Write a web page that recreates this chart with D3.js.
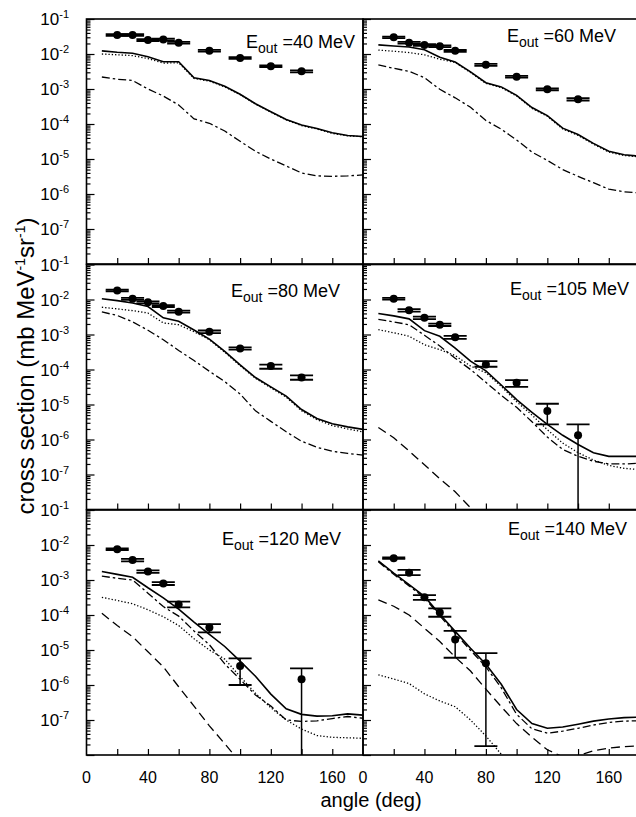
<!DOCTYPE html>
<html>
<head>
<meta charset="utf-8">
<script src="https://cdn.jsdelivr.net/npm/d3@7"></script>
<style>
  body { margin: 0; background: #fff; }
  svg { display: block; font-family: "Liberation Sans", Arial, sans-serif; }
</style>
</head>
<body>
<div id="chart"></div>
<script>
// angle grid shared by all model curves
const angles = [10, 20, 30, 40, 50, 60, 70, 80, 90, 100, 110, 120, 130, 140, 150, 160, 170, 180];

// E_out = 40 MeV
const solid40   = [1.23e-2, 1.12e-2, 1.05e-2, 8.3e-3, 6.0e-3, 6.0e-3, 2.1e-3, 1.74e-3, 1.2e-3, 7.1e-4, 3.8e-4, 2.24e-4, 1.35e-4, 9.3e-5, 7.4e-5, 5.6e-5, 4.7e-5, 4.4e-5];
const dotted40  = [1.0e-2, 9.5e-3, 9.0e-3, 7.4e-3, 5.5e-3, 5.6e-3, 2.0e-3, 1.68e-3, 1.15e-3, 6.9e-4, 3.7e-4, 2.18e-4, 1.32e-4, 9.0e-5, 7.2e-5, 5.4e-5, 4.6e-5, 4.3e-5];
const dashDot40 = [2.2e-3, 1.9e-3, 1.75e-3, 1.0e-3, 6.3e-4, 3.5e-4, 1.4e-4, 1.05e-4, 6.3e-5, 3.2e-5, 1.66e-5, 1.0e-5, 6.3e-6, 4.0e-6, 3.3e-6, 3.2e-6, 3.3e-6, 3.5e-6];
const expAng40 = [20, 30, 40, 50, 60, 80, 100, 120, 140];
const exp40    = [3.5e-2, 3.5e-2, 2.5e-2, 2.6e-2, 2.1e-2, 1.24e-2, 7.7e-3, 4.5e-3, 3.2e-3];
const lo40     = [3.3e-2, 3.3e-2, 2.35e-2, 2.45e-2, 1.98e-2, 1.17e-2, 7.3e-3, 4.25e-3, 3.0e-3];
const hi40     = [3.7e-2, 3.7e-2, 2.65e-2, 2.75e-2, 2.22e-2, 1.31e-2, 8.1e-3, 4.75e-3, 3.4e-3];

// E_out = 60 MeV
const solid60   = [1.82e-2, 1.7e-2, 1.58e-2, 1.32e-2, 8.1e-3, 5.9e-3, 3.1e-3, 1.51e-3, 1.15e-3, 6.6e-4, 2.95e-4, 1.74e-4, 7.6e-5, 5.0e-5, 2.8e-5, 1.66e-5, 1.32e-5, 1.2e-5];
const dotted60  = [1.29e-2, 1.2e-2, 1.1e-2, 9.5e-3, 7.1e-3, 5.75e-3, 2.95e-3, 1.45e-3, 1.1e-3, 6.3e-4, 2.8e-4, 1.66e-4, 7.2e-5, 4.75e-5, 2.65e-5, 1.58e-5, 1.26e-5, 1.15e-5];
const dashDot60 = [4.9e-3, 3.9e-3, 3.2e-3, 2.1e-3, 9.8e-4, 5.6e-4, 3.0e-4, 1.26e-4, 7.1e-5, 3.5e-5, 1.58e-5, 9.1e-6, 5.0e-6, 3.2e-6, 2.1e-6, 1.38e-6, 1.15e-6, 1.07e-6];
const expAng60 = [20, 30, 40, 50, 60, 80, 100, 120, 140];
const exp60    = [3.0e-2, 2.1e-2, 1.8e-2, 1.66e-2, 1.23e-2, 4.9e-3, 2.24e-3, 9.8e-4, 5.1e-4];
const lo60     = [2.85e-2, 1.98e-2, 1.7e-2, 1.57e-2, 1.16e-2, 4.6e-3, 2.1e-3, 9.2e-4, 4.7e-4];
const hi60     = [3.15e-2, 2.22e-2, 1.9e-2, 1.75e-2, 1.3e-2, 5.2e-3, 2.38e-3, 1.04e-3, 5.5e-4];

// E_out = 80 MeV
const solid80   = [1.05e-2, 9.3e-3, 7.9e-3, 6.3e-3, 3.0e-3, 2.4e-3, 1.35e-3, 7.4e-4, 3.3e-4, 1.35e-4, 5.9e-5, 3.2e-5, 1.74e-5, 7.2e-6, 4.0e-6, 2.8e-6, 2.3e-6, 1.95e-6];
const dotted80  = [6.0e-3, 5.4e-3, 4.8e-3, 4.1e-3, 2.14e-3, 1.9e-3, 1.2e-3, 7.1e-4, 3.1e-4, 1.28e-4, 5.6e-5, 3.0e-5, 1.62e-5, 6.6e-6, 3.7e-6, 2.5e-6, 2.0e-6, 1.65e-6];
const dashDot80 = [4.4e-3, 3.5e-3, 2.3e-3, 1.32e-3, 7.1e-4, 3.5e-4, 1.8e-4, 8.9e-5, 4.5e-5, 2.0e-5, 6.6e-6, 3.3e-6, 1.66e-6, 8.9e-7, 6.0e-7, 4.6e-7, 4.0e-7, 3.6e-7];
const expAng80 = [20, 30, 40, 50, 60, 80, 100, 120, 140];
const exp80    = [1.8e-2, 1.05e-2, 8.3e-3, 6.5e-3, 4.5e-3, 1.2e-3, 4.0e-4, 1.26e-4, 5.9e-5];
const lo80     = [1.7e-2, 9.8e-3, 7.8e-3, 6.1e-3, 4.2e-3, 1.1e-3, 3.7e-4, 1.05e-4, 5.1e-5];
const hi80     = [1.9e-2, 1.12e-2, 8.8e-3, 6.9e-3, 4.8e-3, 1.3e-3, 4.3e-4, 1.38e-4, 6.8e-5];

// E_out = 105 MeV
const solid105   = [4.0e-3, 3.4e-3, 2.8e-3, 1.29e-3, 8.9e-4, 4.1e-4, 1.74e-4, 9.1e-5, 3.6e-5, 1.38e-5, 6.0e-6, 2.7e-6, 1.32e-6, 7.2e-7, 4.2e-7, 3.3e-7, 3.3e-7, 3.3e-7];
const dashDot105 = [2.7e-3, 2.3e-3, 1.9e-3, 9.5e-4, 4.7e-4, 2.1e-4, 1.0e-4, 4.3e-5, 1.82e-5, 8.3e-6, 3.2e-6, 1.17e-6, 5.2e-7, 3.3e-7, 2.4e-7, 2.0e-7, 2.0e-7, 2.1e-7];
const dotted105  = [1.38e-3, 1.12e-3, 8.9e-4, 5.1e-4, 3.7e-4, 2.5e-4, 1.26e-4, 8.1e-5, 3.3e-5, 1.2e-5, 5.0e-6, 1.9e-6, 7.9e-7, 4.2e-7, 2.6e-7, 1.82e-7, 1.5e-7, 1.38e-7];
const dashed105  = [2.2e-6, 1.12e-6, 4.7e-7, 1.9e-7, 7.6e-8, 3.2e-8, 1.12e-8, 4.0e-9];
const expAng105 = [20, 30, 40, 50, 60, 80, 100, 120, 140];
const exp105    = [1.05e-2, 4.9e-3, 3.0e-3, 1.9e-3, 8.3e-4, 1.4e-4, 4.2e-5, 6.5e-6, 1.32e-6];
const lo105     = [9.9e-3, 4.5e-3, 2.75e-3, 1.75e-3, 7.5e-4, 1.2e-4, 3.2e-5, 2.7e-6, 1e-9];
const hi105     = [1.11e-2, 5.3e-3, 3.25e-3, 2.05e-3, 9.1e-4, 1.74e-4, 5.0e-5, 1.05e-5, 2.7e-6];

// E_out = 120 MeV
const solid120   = [1.74e-3, 1.45e-3, 1.2e-3, 6.0e-4, 3.1e-4, 1.48e-4, 6.3e-5, 2.8e-5, 1.26e-5, 4.8e-6, 1.78e-6, 5.5e-7, 2.1e-7, 1.45e-7, 1.29e-7, 1.32e-7, 1.5e-7, 1.38e-7];
const dashDot120 = [1.29e-3, 1.12e-3, 1.0e-3, 4.2e-4, 1.74e-4, 9.3e-5, 3.5e-5, 1.41e-5, 4.0e-6, 1.45e-6, 5.2e-7, 2.5e-7, 1.0e-7, 9.1e-8, 9.5e-8, 1.1e-7, 1.26e-7, 1.12e-7];
const dotted120  = [3.2e-4, 2.6e-4, 2.1e-4, 1.41e-4, 8.9e-5, 5.0e-5, 2.1e-5, 1.0e-5, 5.5e-6, 1.74e-6, 5.8e-7, 2.24e-7, 1.0e-7, 5.5e-8, 3.6e-8, 3.2e-8, 3.1e-8, 3.0e-8];
const dashed120  = [1.12e-4, 5.0e-5, 2.4e-5, 8.9e-6, 3.3e-6, 8.9e-7, 2.5e-7, 6.8e-8, 2.1e-8, 6.3e-9];
const expAng120 = [20, 30, 40, 50, 60, 80, 100, 140];
const exp120    = [7.6e-3, 3.7e-3, 1.74e-3, 7.9e-4, 2.0e-4, 4.4e-5, 3.5e-6, 1.45e-6];
const lo120     = [7.2e-3, 3.4e-3, 1.6e-3, 7.2e-4, 1.66e-4, 3.2e-5, 1.0e-6, 1e-9];
const hi120     = [8.0e-3, 4.0e-3, 1.88e-3, 8.7e-4, 2.4e-4, 5.5e-5, 5.8e-6, 3.0e-6];

// E_out = 140 MeV
const solid140   = [3.5e-3, 1.58e-3, 7.4e-4, 3.4e-4, 1.05e-4, 3.4e-5, 1.12e-5, 3.9e-6, 1.05e-6, 2.0e-7, 7.9e-8, 5.8e-8, 6.3e-8, 7.6e-8, 9.3e-8, 1.07e-7, 1.17e-7, 1.2e-7];
const dashDot140 = [3.3e-3, 1.45e-3, 6.8e-4, 3.1e-4, 9.5e-5, 3.0e-5, 9.8e-6, 3.3e-6, 8.3e-7, 1.45e-7, 5.6e-8, 4.2e-8, 4.8e-8, 5.8e-8, 7.2e-8, 8.5e-8, 9.3e-8, 9.5e-8];
const dashed140  = [2.7e-4, 1.78e-4, 1.0e-4, 4.2e-5, 1.74e-5, 6.3e-6, 2.5e-6, 7.6e-7, 2.4e-7, 7.9e-8, 3.2e-8, 1.41e-8, 8.9e-9, 9.5e-9, 1.32e-8, 1.58e-8, 1.74e-8, 1.82e-8];
const dotted140  = [1.95e-6, 1.48e-6, 1.1e-6, 5.6e-7, 3.5e-7, 2.4e-7, 1.0e-7, 3.5e-8, 1.05e-8, 3.2e-9];
const expAng140 = [20, 30, 40, 50, 60, 80];
const exp140    = [4.2e-3, 1.62e-3, 3.2e-4, 1.17e-4, 2.0e-5, 4.2e-6];
const lo140     = [4.0e-3, 1.38e-3, 2.7e-4, 8.9e-5, 6.0e-6, 1.8e-8];
const hi140     = [4.4e-3, 1.95e-3, 3.7e-4, 1.55e-4, 3.5e-5, 8.1e-6];

const energies = ['40', '60', '80', '105', '120', '140'];
const yTickExps = [-1, -2, -3, -4, -5, -6, -7];
const xTickLabels = [0, 40, 80, 120, 160];

const panels = [
  { curves: [['solid', solid40], ['dotted', dotted40], ['dashDot', dashDot40]], ang: expAng40, v: exp40, lo: lo40, hi: hi40 },
  { curves: [['solid', solid60], ['dotted', dotted60], ['dashDot', dashDot60]], ang: expAng60, v: exp60, lo: lo60, hi: hi60 },
  { curves: [['solid', solid80], ['dotted', dotted80], ['dashDot', dashDot80]], ang: expAng80, v: exp80, lo: lo80, hi: hi80 },
  { curves: [['solid', solid105], ['dashDot', dashDot105], ['dotted', dotted105], ['dashed', dashed105]], ang: expAng105, v: exp105, lo: lo105, hi: hi105 },
  { curves: [['solid', solid120], ['dashDot', dashDot120], ['dotted', dotted120], ['dashed', dashed120]], ang: expAng120, v: exp120, lo: lo120, hi: hi120 },
  { curves: [['solid', solid140], ['dashDot', dashDot140], ['dashed', dashed140], ['dotted', dotted140]], ang: expAng140, v: exp140, lo: lo140, hi: hi140 }
];

// layout
const W = 636, H = 817;
const colX = [86.5, 363];
const rowY = [19, 264.5, 510];
const pw = 276.5, ph = 245;
const titleX = [246, 507, 231, 510, 222, 508];
const titleDy = [29, 23, 32, 30, 35, 25];

const lineStyles = {
  solid:   { dash: null, w: 1.6 },
  dotted:  { dash: '1.3,2', w: 1.3 },
  dashDot: { dash: '8,3,2.5,3', w: 1.3 },
  dashed:  { dash: '9,5', w: 1.3 }
};

const svg = d3.select('#chart').append('svg')
  .attr('width', W)
  .attr('height', H);

const minorTicks = [];
for (let e = -8; e < -1; e++) {
  for (let m = 2; m <= 9; m++) minorTicks.push(m * Math.pow(10, e));
}
const majorTicks = yTickExps.map(e => Math.pow(10, e)).concat([1e-8]);

panels.forEach((p, i) => {
  const c = i % 2, r = Math.floor(i / 2);
  const x0 = colX[c], y0 = rowY[r];
  const x = d3.scaleLinear().domain([0, 180]).range([x0, x0 + pw]);
  const y = d3.scaleLog().domain([1e-8, 1e-1]).range([y0 + ph, y0]);

  const clipId = 'clip' + i;
  svg.append('clipPath').attr('id', clipId)
    .append('rect')
    .attr('x', x0).attr('y', y0)
    .attr('width', pw).attr('height', ph);

  const plot = svg.append('g').attr('clip-path', `url(#${clipId})`);

  // model curves
  p.curves.forEach(([kind, vals]) => {
    const st = lineStyles[kind];
    const line = d3.line()
      .x((d, k) => x(angles[k]))
      .y(d => y(d));
    plot.append('path')
      .datum(vals)
      .attr('d', line)
      .attr('fill', 'none')
      .attr('stroke', '#000')
      .attr('stroke-width', st.w)
      .attr('stroke-dasharray', st.dash);
  });

  // experimental points with error bars
  const pts = p.ang.map((a, k) => ({ a, v: p.v[k], lo: p.lo[k], hi: p.hi[k] }));
  const pg = plot.selectAll('.pt').data(pts).enter().append('g').attr('class', 'pt');
  pg.append('line')
    .attr('x1', d => x(d.a)).attr('x2', d => x(d.a))
    .attr('y1', d => y(d.lo)).attr('y2', d => y(d.hi))
    .attr('stroke', '#000').attr('stroke-width', 1.5);
  ['lo', 'hi'].forEach(key => {
    pg.append('line')
      .attr('x1', d => x(d.a - 7.5)).attr('x2', d => x(d.a + 7.5))
      .attr('y1', d => y(d[key])).attr('y2', d => y(d[key]))
      .attr('stroke', '#000').attr('stroke-width', 1.8);
  });
  pg.append('circle')
    .attr('cx', d => x(d.a)).attr('cy', d => y(d.v))
    .attr('r', 4).attr('fill', '#000');

  // y ticks (inward)
  svg.append('g')
    .attr('transform', `translate(${x0},0)`)
    .call(d3.axisRight(y).tickValues(minorTicks).tickSize(4).tickSizeOuter(0).tickFormat(''))
    .call(g => g.select('.domain').remove());
  svg.append('g')
    .attr('transform', `translate(${x0},0)`)
    .call(d3.axisRight(y).tickValues(majorTicks).tickSize(8).tickSizeOuter(0).tickFormat(''))
    .call(g => g.select('.domain').remove());

  // x ticks (inward, pointing up)
  svg.append('g')
    .attr('transform', `translate(0,${y0 + ph})`)
    .call(d3.axisTop(x).tickValues(d3.range(20, 180, 20)).tickSize(6).tickSizeOuter(0).tickFormat(''))
    .call(g => g.select('.domain').remove());

  svg.selectAll('.tick line').attr('stroke-width', 1.2);

  // frame
  svg.append('rect')
    .attr('x', x0).attr('y', y0)
    .attr('width', pw).attr('height', ph)
    .attr('fill', 'none').attr('stroke', '#000').attr('stroke-width', 1.6);

  // title
  const t = svg.append('text')
    .attr('x', titleX[i]).attr('y', y0 + titleDy[i])
    .attr('font-size', 18);
  t.append('tspan').text('E');
  t.append('tspan').attr('dy', 5).attr('font-size', 14).text('out');
  t.append('tspan').attr('dy', -5).text(' =' + energies[i] + ' MeV');

  // y tick labels on the left column
  if (c === 0) {
    yTickExps.forEach(e => {
      const lab = svg.append('text')
        .attr('x', 69).attr('y', y(Math.pow(10, e)) + 6)
        .attr('text-anchor', 'end')
        .attr('font-size', 17);
      lab.append('tspan').text('10');
      lab.append('tspan').attr('dy', -7).attr('font-size', 11).text(String(e));
    });
  }

  // x tick labels on the bottom row
  if (r === 2) {
    xTickLabels.forEach(v => {
      svg.append('text')
        .attr('x', x(v)).attr('y', y0 + ph + 28)
        .attr('text-anchor', 'middle')
        .attr('font-size', 16)
        .text(v);
    });
  }
});

// axis titles
svg.append('text')
  .attr('x', 371).attr('y', 807)
  .attr('text-anchor', 'middle')
  .attr('font-size', 20)
  .text('angle (deg)');

const yt = svg.append('text')
  .attr('transform', 'translate(34,366) rotate(-90)')
  .attr('text-anchor', 'middle')
  .attr('font-size', 24);
yt.append('tspan').text('cross section (mb MeV');
yt.append('tspan').attr('dy', -9).attr('font-size', 14).text('-1');
yt.append('tspan').attr('dy', 9).text('sr');
yt.append('tspan').attr('dy', -9).attr('font-size', 14).text('-1');
yt.append('tspan').attr('dy', 9).text(')');
</script>
</body>
</html>
